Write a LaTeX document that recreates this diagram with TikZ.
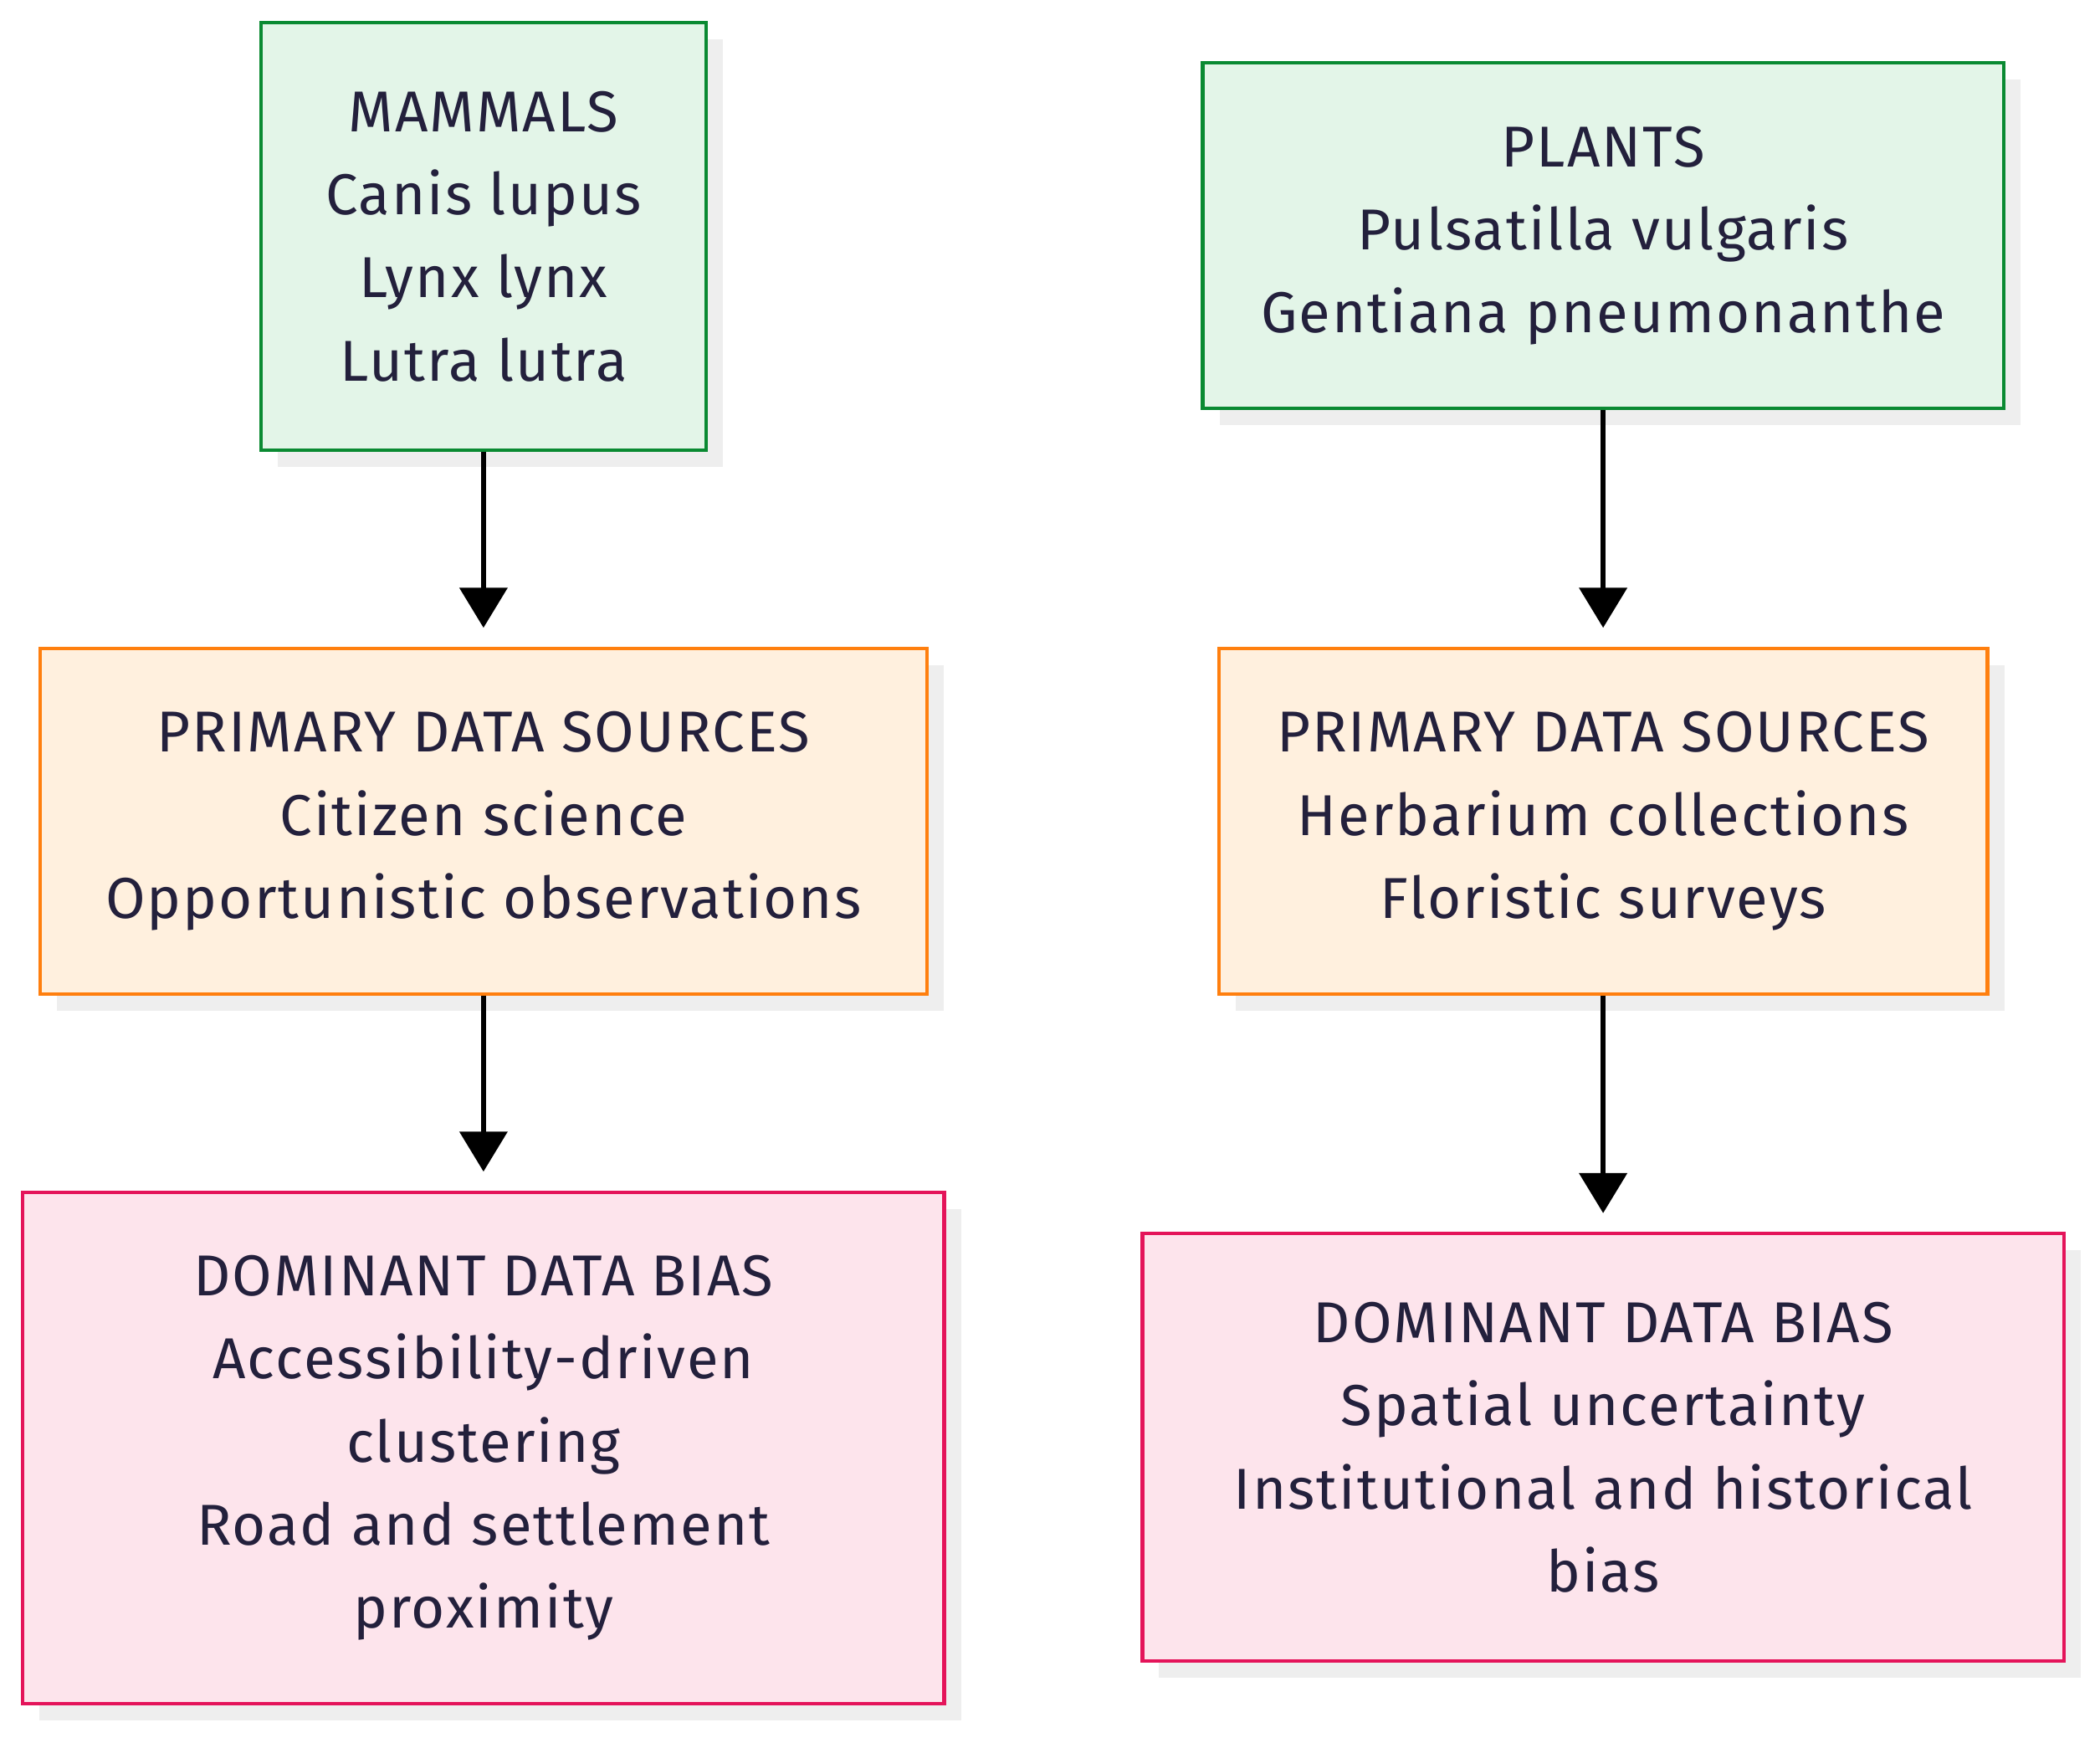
\documentclass[tikz,border=0pt]{standalone}
\usepackage{fontspec}
\setmainfont[LetterSpace=3]{Fira Sans}
\usetikzlibrary{arrows.meta,shadows}

\definecolor{txtcol}{RGB}{35,32,60}
\definecolor{grnline}{RGB}{10,138,50}
\definecolor{grnfill}{RGB}{227,245,232}
\definecolor{orgline}{RGB}{255,127,14}
\definecolor{orgfill}{RGB}{255,240,222}
\definecolor{pnkline}{RGB}{228,20,90}
\definecolor{pnkfill}{RGB}{253,228,236}
\definecolor{shadcol}{RGB}{238,238,238}

\tikzset{
	box/.style={rectangle, line width=1.5pt, align=center, text=txtcol,
		font=\fontsize{24.5}{35.3}\selectfont, inner sep=0pt,
		drop shadow={shadow xshift=0.25cm, shadow yshift=-0.25cm, fill=shadcol, opacity=1}},
	taxon/.style={box, draw=grnline, fill=grnfill},
	source/.style={box, draw=orgline, fill=orgfill},
	bias/.style={box, draw=pnkline, fill=pnkfill},
	flow/.style={-{Triangle[length=17pt,width=20pt]}, line width=2.3pt, shorten >=0.28cm}
}

\begin{document}
\begin{tikzpicture}[x=0.02cm, y=-0.02cm]
	\useasboundingbox (0,0) rectangle (1568,1301);
	% Mammals column
	\node[taxon, minimum width=332*0.02cm, minimum height=319*0.02cm] (mam) at (361,176.5)
		{MAMMALS\\Canis lupus\\Lynx lynx\\Lutra lutra};
	\node[source, minimum width=662*0.02cm, minimum height=258*0.02cm] (mamsrc) at (361,613)
		{PRIMARY DATA SOURCES\\Citizen science\\Opportunistic observations};
	\node[bias, minimum width=688*0.02cm, minimum height=382*0.02cm] (mambias) at (361,1081)
		{DOMINANT DATA BIAS\\Accessibility-driven\\clustering\\Road and settlement\\proximity};
	% Plants column
	\node[taxon, minimum width=598*0.02cm, minimum height=258*0.02cm] (pla) at (1197,176)
		{PLANTS\\Pulsatilla vulgaris\\Gentiana pneumonanthe};
	\node[source, minimum width=574*0.02cm, minimum height=258*0.02cm] (plasrc) at (1197,613)
		{PRIMARY DATA SOURCES\\Herbarium collections\\Floristic surveys};
	\node[bias, minimum width=688*0.02cm, minimum height=319*0.02cm] (plabias) at (1197,1080.5)
		{DOMINANT DATA BIAS\\Spatial uncertainty\\Institutional and historical\\bias};
	% Connect the boxes
	\draw[flow] (mam) -- (mamsrc);
	\draw[flow] (mamsrc) -- (mambias);
	\draw[flow] (pla) -- (plasrc);
	\draw[flow] (plasrc) -- (plabias);
\end{tikzpicture}
\end{document}
